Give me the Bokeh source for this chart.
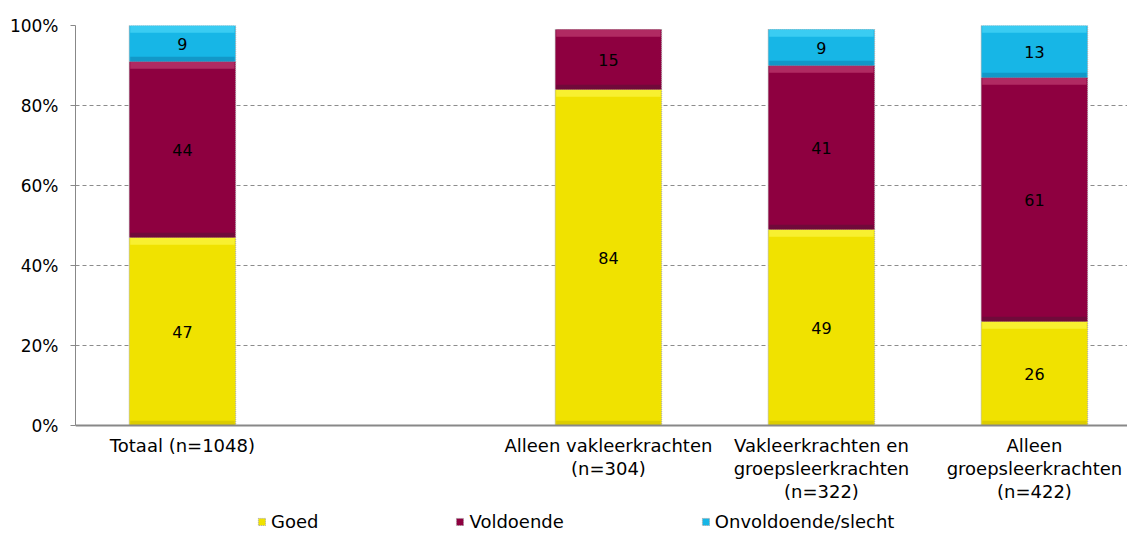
from bokeh.plotting import figure
from bokeh.models import ColumnDataSource, FixedTicker, Range1d, Legend, Span
from bokeh.core.properties import value
from bokeh.embed import file_html
from bokeh.resources import INLINE

categories = ["Totaal (n=1048)", "", "Alleen vakleerkrachten\n(n=304)",
              "Vakleerkrachten en\ngroepsleerkrachten\n(n=322)",
              "Alleen\ngroepsleerkrachten\n(n=422)"]
series = ["Goed", "Voldoende", "Onvoldoende/slecht"]
goed = [47, 0, 84, 49, 26]
voldoende = [44, 0, 15, 41, 61]
onvoldoende = [9, 0, 0, 9, 13]
y_ticks = [0, 20, 40, 60, 80, 100]

colors = ["#F0E200", "#8E0040", "#17B6E6"]
light = ["#F8F030", "#B02A62", "#3ACCF2"]
dark = ["#DCCC00", "#700A3A", "#1298C8"]

idx = [i for i, c in enumerate(categories) if c]
data = {"x": idx}
for name, vals in zip(series, [goed, voldoende, onvoldoende]):
    data[name] = [vals[i] for i in idx]
src = ColumnDataSource(data)

# frame spans 25..533 px; 4 px per percent; area below 0 holds labels and legend
p = figure(frame_width=1052, frame_height=508, output_backend="svg", toolbar_location=None,
           x_range=Range1d(-0.502, 4.437), y_range=Range1d(-27, 100),
           min_border_left=75, min_border_right=0, min_border_top=25,
           min_border_bottom=0)
p.outline_line_color = None
p.background_fill_color = "white"
p.xaxis.visible = False

rs = p.vbar_stack(series, x="x", width=0.5, source=src, color=colors,
                  line_color="#AAAAAA", line_dash="1 1", line_width=1)

# bevel bands + data labels
lx, ly, lt = [], [], []
stack = [goed, voldoende, onvoldoende]
for k, vals in enumerate(stack):
    bx, bt, bb, dx, dt, db = [], [], [], [], [], []
    for i in idx:
        base = sum(v[i] for v in stack[:k])
        v = vals[i]
        if v > 0:
            top = base + v
            bx.append(i); bt.append(top); bb.append(top - min(1.8, v / 4))
            dx.append(i); dt.append(base + min(1.2, v / 5)); db.append(base)
            lx.append(i); ly.append(base + v / 2); lt.append(str(v))
    p.vbar(x=bx, top=bt, bottom=bb, width=0.49, color=light[k], line_color=None)
    p.vbar(x=dx, top=dt, bottom=db, width=0.49, color=dark[k], line_color=None)

p.text(x=lx, y=ly, text=lt, text_align="center", text_baseline="middle",
       text_font=value("DejaVu Sans"), text_font_size="16px", text_color="#000000")

# category labels
p.text(x=idx, y=[-2.3] * len(idx), text=[categories[i] for i in idx],
       text_align="center", text_baseline="top", text_line_height=1.1,
       text_font=value("DejaVu Sans"), text_font_size="18px", text_color="#000000")

# baseline
p.add_layout(Span(location=0, dimension="width", line_color="#888888", line_width=2))

# grid
p.xgrid.grid_line_color = None
p.ygrid.ticker = FixedTicker(ticks=y_ticks)
p.ygrid.grid_line_color = "#8C8C8C"
p.ygrid.grid_line_dash = "4 3"
p.ygrid.grid_line_width = 1

# y axis
p.yaxis.bounds = (0, 100)
p.yaxis.ticker = FixedTicker(ticks=y_ticks)
p.yaxis.major_label_overrides = {t: f"{t}%" for t in y_ticks}
p.yaxis.axis_line_color = "#888888"
p.yaxis.major_tick_line_color = "#888888"
p.yaxis.major_tick_out = 5
p.yaxis.major_tick_in = 0
p.yaxis.minor_tick_line_color = None
p.yaxis.major_label_text_font = "DejaVu Sans"
p.yaxis.major_label_text_font_size = "17px"
p.yaxis.major_label_text_color = "#000000"
p.yaxis.major_label_standoff = 12

legend = Legend(items=[(s, [r]) for s, r in zip(series, rs)],
                orientation="horizontal", location=(182, 1),
                label_text_font="DejaVu Sans", label_text_font_size="18px",
                label_text_color="#000000",
                glyph_width=9, glyph_height=9, label_standoff=5, spacing=137,
                border_line_color=None, background_fill_alpha=0,
                padding=0, margin=0, label_height=20)
p.add_layout(legend, "center")

open("out.html", "w").write(file_html(p, INLINE))
